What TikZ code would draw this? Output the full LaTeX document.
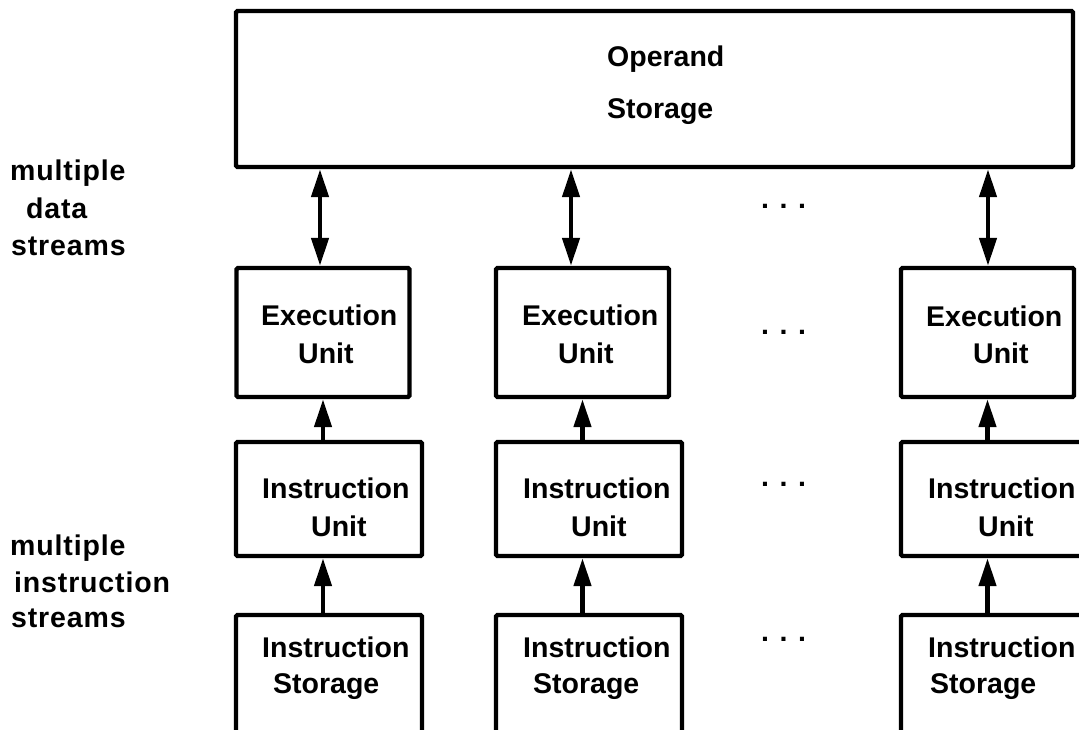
\documentclass[tikz,border=0pt]{standalone}
\usepackage{fontspec}
\setmainfont{Liberation Sans}
\usetikzlibrary{arrows.meta}
\begin{document}
\begin{tikzpicture}[x=1pt,y=-1pt,
  blk/.style={draw, line width=4.4pt, rounded corners=1.5pt, inner sep=0pt, outer sep=2.2pt},
  eunit/.style={blk, minimum width=173pt, minimum height=129pt},
  iunit/.style={blk, minimum width=186pt, minimum height=114pt},
  istore/.style={blk, minimum width=186pt, minimum height=130pt},
  lbl/.style={font=\bfseries\fontsize{28.5}{34}\selectfont, inner sep=0pt, anchor=base west},
  side/.style={lbl, font=\bfseries\fontsize{28.5}{34}\selectfont\addfontfeature{LetterSpace=3}},
  tip/.tip={Triangle[length=28pt,width=17pt]},
  arr/.style={line width=4.4pt, -tip},
  darr/.style={line width=4.4pt, tip-tip}]
\useasboundingbox (0,0) rectangle (1079,729);
\clip (0,0) rectangle (1079,729);

% shared operand storage
\node[blk, minimum width=837pt, minimum height=156pt] (op) at (654.5,89) {};
\node[lbl] (opa) at (607,66) {Operand};
\node[lbl] (opb) at (607,118) {Storage};

% execution units
\node[eunit] (eu1) at (323,332.5) {};
\node[eunit] (eu2) at (582.5,332.5) {};
\node[eunit] (eu3) at (987.5,332.5) {};
\node[lbl] (eu1a) at (261,325) {Execution};
\node[lbl] (eu1b) at (298,363) {Unit};
\node[lbl] (eu2a) at (522,325) {Execution};
\node[lbl] (eu2b) at (558,363) {Unit};
\node[lbl] (eu3a) at (926,326) {Execution};
\node[lbl] (eu3b) at (973,363) {Unit};

% instruction units
\node[iunit] (iu1) at (329,499) {};
\node[iunit] (iu2) at (589,499) {};
\node[iunit] (iu3) at (994,499) {};
\node[lbl] (iu1a) at (262,498) {Instruction};
\node[lbl] (iu1b) at (311,536) {Unit};
\node[lbl] (iu2a) at (523,498) {Instruction};
\node[lbl] (iu2b) at (571,536) {Unit};
\node[lbl] (iu3a) at (928,498) {Instruction};
\node[lbl] (iu3b) at (978,536) {Unit};

% instruction storages
\node[istore] (is1) at (329,680) {};
\node[istore] (is2) at (589,680) {};
\node[istore] (is3) at (994,680) {};
\node[lbl] (is1a) at (262,657) {Instruction};
\node[lbl] (is1b) at (273,693) {Storage};
\node[lbl] (is2a) at (523,657) {Instruction};
\node[lbl] (is2b) at (533,693) {Storage};
\node[lbl] (is3a) at (928,657) {Instruction};
\node[lbl] (is3b) at (930,693) {Storage};

% data paths between operand storage and execution units
\draw[darr] ([xshift=-3pt]eu1.north |- op.south) -- ([xshift=-3pt]eu1.north);
\draw[darr] ([xshift=-11.5pt]eu2.north |- op.south) -- ([xshift=-11.5pt]eu2.north);
\draw[darr] ([xshift=0.5pt]eu3.north |- op.south) -- ([xshift=0.5pt]eu3.north);

% instruction paths
\draw[arr] (eu1.south |- iu1.north) -- (eu1.south);
\draw[arr] (eu2.south |- iu2.north) -- (eu2.south);
\draw[arr] (eu3.south |- iu3.north) -- (eu3.south);
\draw[arr] (eu1.south |- is1.north) -- (eu1.south |- iu1.south);
\draw[arr] (eu2.south |- is2.north) -- (eu2.south |- iu2.south);
\draw[arr] (eu3.south |- is3.north) -- (eu3.south |- iu3.south);

% ellipses between the columns
\node[lbl] (dt1) at (761,208) {.\hspace{10.6pt}.\hspace{10.6pt}.};
\node[lbl] (dt2) at (761,334) {.\hspace{10.6pt}.\hspace{10.6pt}.};
\node[lbl] (dt3) at (761,486) {.\hspace{10.6pt}.\hspace{10.6pt}.};
\node[lbl] (dt4) at (761,641) {.\hspace{10.6pt}.\hspace{10.6pt}.};

% stream labels
\node[side] (md1) at (10,180) {multiple};
\node[side] (md2) at (26,218) {data};
\node[side] (md3) at (11,255) {streams};
\node[side] (mi1) at (10,555) {multiple};
\node[side] (mi2) at (14,592) {instruction};
\node[side] (mi3) at (11,627) {streams};
\end{tikzpicture}
\end{document}
